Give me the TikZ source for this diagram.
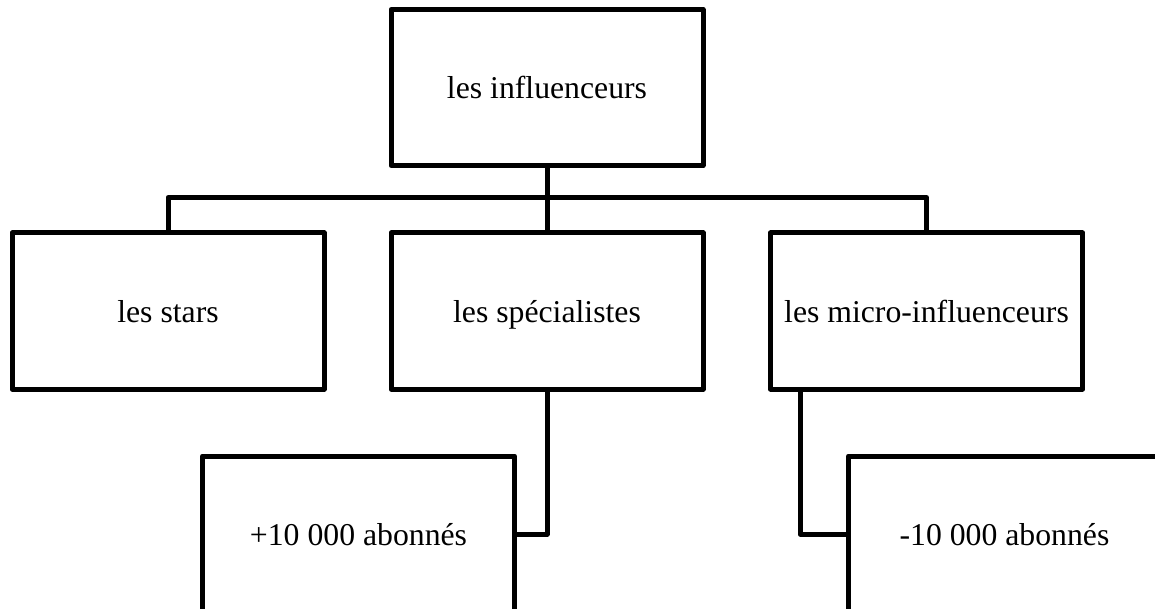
\documentclass[tikz,border=0pt]{standalone}
\usepackage{fontspec}
\setmainfont{Liberation Serif}
\begin{document}
\begin{tikzpicture}[x=0.75pt, y=-0.75pt,
    orgbox/.style={draw, line width=3.75pt, line join=round, fill=white,
      rectangle, minimum width=234pt, minimum height=117pt, inner sep=0pt,
      text height=16.5pt, text depth=0pt,
      font=\fontsize{23.8}{28}\selectfont},
    link/.style={line width=3.75pt, line join=round}]
  \clip (0,0) rectangle (1155,609);
  \useasboundingbox (0,0) rectangle (1155,609);
  \fill[white] (0,0) rectangle (1155,609);

  % boxes
  \node[orgbox] (top)   at (547,87.5) {les influenceurs};
  \node[orgbox] (stars) at (168,311)  {les stars};
  \node[orgbox] (spec)  at (547,311)  {les spécialistes};
  \node[orgbox] (micro) at (926.5,311) {les micro-influenceurs};
  \node[orgbox] (plus)  at (358.5,534) {+10 000 abonnés};
  \node[orgbox] (minus) at (1004.5,534) {-10 000 abonnés};

  % connectors
  \draw[link] (top.south) -- (spec.north);
  \draw[link] (stars.north) -- ++(0,-33) -| (micro.north);
  \draw[link] (spec.south) |- (plus.east);
  \draw[link] ([xshift=24pt]micro.south west) |- (minus.west);
\end{tikzpicture}
\end{document}
